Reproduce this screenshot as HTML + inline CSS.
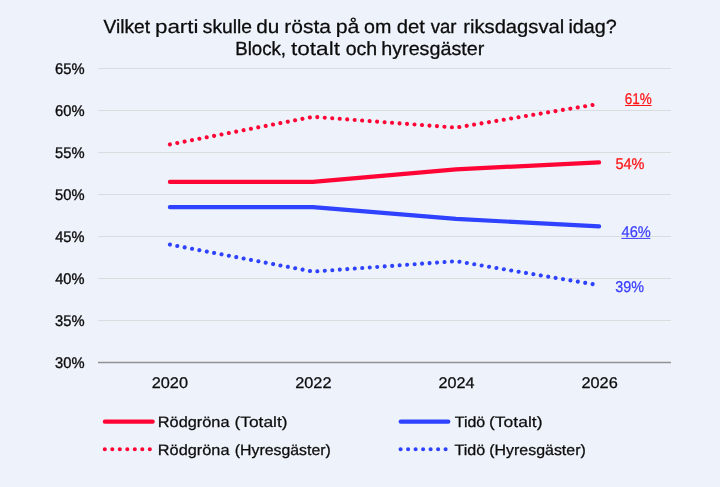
<!DOCTYPE html>
<html><head><meta charset="utf-8">
<style>
html,body{margin:0;padding:0;}
body{width:720px;height:487px;background:#eef3fb;overflow:hidden;font-family:"Liberation Sans",sans-serif;}
svg{display:block;will-change:transform;}
text{text-rendering:geometricPrecision;font-family:"Liberation Sans",sans-serif;fill:#0c0c0c;stroke:#0c0c0c;stroke-width:0.32;}
.r{fill:#ff1414;stroke:#ff1414;stroke-width:0.2;}
.b{fill:#3a3cff;stroke:#3a3cff;stroke-width:0.2;}
</style></head><body>
<svg width="720" height="487" viewBox="0 0 720 487">
<rect width="720" height="487" fill="#eef3fb"/>
<!-- gridlines -->
<g stroke="#d9dde0" stroke-width="1">
<line x1="98" x2="671" y1="68.5" y2="68.5"/>
<line x1="98" x2="671" y1="110.5" y2="110.5"/>
<line x1="98" x2="671" y1="152.5" y2="152.5"/>
<line x1="98" x2="671" y1="194.5" y2="194.5"/>
<line x1="98" x2="671" y1="236.5" y2="236.5"/>
<line x1="98" x2="671" y1="278.5" y2="278.5"/>
<line x1="98" x2="671" y1="320.5" y2="320.5"/>
</g>
<line x1="98" x2="671" y1="362.5" y2="362.5" stroke="#929292" stroke-width="1.4"/>
<!-- series -->
<path d="M169.9 181.9 L313 181.9 L456 169.3 L599.1 162.4" fill="none" stroke="#ff0535" stroke-width="4.2" stroke-linecap="round" stroke-linejoin="round"/>
<path d="M169.9 207.2 L313 207.2 L456 218.9 L599.1 226.4" fill="none" stroke="#2e42ff" stroke-width="4.2" stroke-linecap="round" stroke-linejoin="round"/>
<path d="M169.9 144.4 L313 116.8 L456 127.6 L599.1 103.9" fill="none" stroke="#ff0535" stroke-width="4.1" stroke-linecap="round" stroke-dasharray="0.01 7.49"/>
<path d="M169.9 244.6 L313 271.6 L456 261.2 L599.1 285.2" fill="none" stroke="#2e42ff" stroke-width="4.1" stroke-linecap="round" stroke-dasharray="0.01 7.49"/>
<rect x="625" y="105" width="26.6" height="1" fill="#ff1414"/>
<rect x="621.4" y="237.9" width="29" height="1" fill="#3a3cff"/>
<!-- legend -->
<g stroke-width="4.2" stroke-linecap="round" fill="none">
<line x1="104.8" x2="152.7" y1="421.7" y2="421.7" stroke="#ff0535"/>
<line x1="400.7" x2="448.3" y1="421.7" y2="421.7" stroke="#2e42ff"/>
<line x1="104.8" x2="152.7" y1="449.2" y2="449.2" stroke="#ff0535" stroke-width="4.1" stroke-dasharray="0.01 7.49"/>
<line x1="400.6" x2="448.3" y1="449.2" y2="449.2" stroke="#2e42ff" stroke-width="4.1" stroke-dasharray="0.01 7.49"/>
</g>
<text x="103.50" y="33.2" font-size="19" textLength="46.50" lengthAdjust="spacingAndGlyphs" style="stroke-width:0.31">Vilket</text>
<text x="154.94" y="33.2" font-size="19" textLength="43.61" lengthAdjust="spacingAndGlyphs" style="stroke-width:0.18">parti</text>
<text x="202.75" y="33.2" font-size="19" textLength="49.25" lengthAdjust="spacingAndGlyphs" style="stroke-width:0.31">skulle</text>
<text x="256.21" y="33.2" font-size="19" textLength="23.10" lengthAdjust="spacingAndGlyphs" style="stroke-width:0.25">du</text>
<text x="284.25" y="33.2" font-size="19" textLength="46.75" lengthAdjust="spacingAndGlyphs" style="stroke-width:0.23">rösta</text>
<text x="335.74" y="33.2" font-size="19" textLength="23.76" lengthAdjust="spacingAndGlyphs" style="stroke-width:0.22">på</text>
<text x="363.98" y="33.2" font-size="19" textLength="27.30" lengthAdjust="spacingAndGlyphs" style="stroke-width:0.29">om</text>
<text x="396.76" y="33.2" font-size="19" textLength="28.24" lengthAdjust="spacingAndGlyphs" style="stroke-width:0.26">det</text>
<text x="430.75" y="33.2" font-size="19" textLength="25.74" lengthAdjust="spacingAndGlyphs" style="stroke-width:0.34">var</text>
<text x="463.23" y="33.2" font-size="19" textLength="101.04" lengthAdjust="spacingAndGlyphs" style="stroke-width:0.27">riksdagsval</text>
<text x="568.48" y="33.2" font-size="19" textLength="48.27" lengthAdjust="spacingAndGlyphs" style="stroke-width:0.29">idag?</text>
<text x="235.20" y="55.3" font-size="19" textLength="50.85" lengthAdjust="spacingAndGlyphs" style="stroke-width:0.33">Block,</text>
<text x="291.00" y="55.3" font-size="19" textLength="49.00" lengthAdjust="spacingAndGlyphs" style="stroke-width:0.17">totalt</text>
<text x="345.73" y="55.3" font-size="19" textLength="31.53" lengthAdjust="spacingAndGlyphs" style="stroke-width:0.30">och</text>
<text x="381.25" y="55.3" font-size="19" textLength="103.00" lengthAdjust="spacingAndGlyphs" style="stroke-width:0.29">hyresgäster</text>
<text x="55.00" y="74" font-size="15.4" textLength="29.49" lengthAdjust="spacingAndGlyphs" style="stroke-width:0.35">65%</text>
<text x="55.00" y="116" font-size="15.4" textLength="29.49" lengthAdjust="spacingAndGlyphs" style="stroke-width:0.35">60%</text>
<text x="55.00" y="158" font-size="15.4" textLength="29.49" lengthAdjust="spacingAndGlyphs" style="stroke-width:0.35">55%</text>
<text x="55.00" y="200" font-size="15.4" textLength="29.49" lengthAdjust="spacingAndGlyphs" style="stroke-width:0.35">50%</text>
<text x="55.25" y="242" font-size="15.4" textLength="29.24" lengthAdjust="spacingAndGlyphs" style="stroke-width:0.36">45%</text>
<text x="55.25" y="284" font-size="15.4" textLength="29.24" lengthAdjust="spacingAndGlyphs" style="stroke-width:0.36">40%</text>
<text x="55.00" y="326" font-size="15.4" textLength="29.49" lengthAdjust="spacingAndGlyphs" style="stroke-width:0.35">35%</text>
<text x="55.00" y="368" font-size="15.4" textLength="29.49" lengthAdjust="spacingAndGlyphs" style="stroke-width:0.35">30%</text>
<text x="151.74" y="388.3" font-size="15.4" textLength="36.26" lengthAdjust="spacingAndGlyphs" style="stroke-width:0.27">2020</text>
<text x="295.24" y="388.3" font-size="15.4" textLength="36.26" lengthAdjust="spacingAndGlyphs" style="stroke-width:0.27">2022</text>
<text x="438.50" y="388.3" font-size="15.4" textLength="36.00" lengthAdjust="spacingAndGlyphs" style="stroke-width:0.28">2024</text>
<text x="581.50" y="388.3" font-size="15.4" textLength="36.26" lengthAdjust="spacingAndGlyphs" style="stroke-width:0.27">2026</text>
<text class="r" x="624.75" y="104.0" font-size="15.6" textLength="27.00" lengthAdjust="spacingAndGlyphs" style="stroke-width:0.26">61%</text>
<text class="r" x="615.50" y="169.0" font-size="15.6" textLength="29.00" lengthAdjust="spacingAndGlyphs" style="stroke-width:0.26">54%</text>
<text class="b" x="621.50" y="236.6" font-size="15.6" textLength="29.25" lengthAdjust="spacingAndGlyphs" style="stroke-width:0.25">46%</text>
<text class="b" x="615.25" y="291.9" font-size="15.6" textLength="28.75" lengthAdjust="spacingAndGlyphs" style="stroke-width:0.26">39%</text>
<text x="157.75" y="427.2" font-size="15" textLength="71.75" lengthAdjust="spacingAndGlyphs" style="stroke-width:0.25">Rödgröna</text>
<text x="234.48" y="427.2" font-size="15" textLength="53.04" lengthAdjust="spacingAndGlyphs" style="stroke-width:0.19">(Totalt)</text>
<text x="454.75" y="427.2" font-size="15" textLength="30.49" lengthAdjust="spacingAndGlyphs" style="stroke-width:0.27">Tidö</text>
<text x="488.98" y="427.2" font-size="15" textLength="53.54" lengthAdjust="spacingAndGlyphs" style="stroke-width:0.19">(Totalt)</text>
<text x="157.75" y="454.5" font-size="15" textLength="71.75" lengthAdjust="spacingAndGlyphs" style="stroke-width:0.25">Rödgröna</text>
<text x="234.75" y="454.5" font-size="15" textLength="96.01" lengthAdjust="spacingAndGlyphs" style="stroke-width:0.27">(Hyresgäster)</text>
<text x="454.50" y="454.5" font-size="15" textLength="30.74" lengthAdjust="spacingAndGlyphs" style="stroke-width:0.26">Tidö</text>
<text x="489.25" y="454.5" font-size="15" textLength="96.51" lengthAdjust="spacingAndGlyphs" style="stroke-width:0.27">(Hyresgäster)</text>
</svg>
</body></html>
